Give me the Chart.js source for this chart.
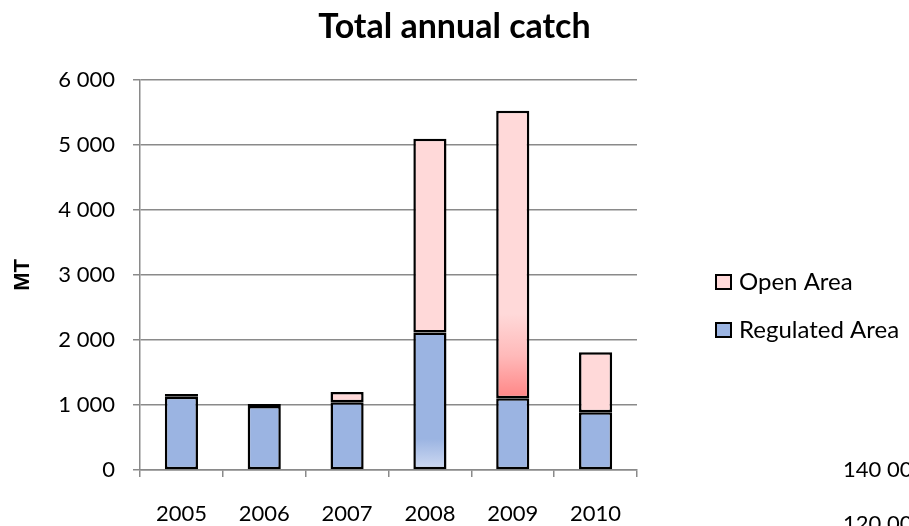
<!DOCTYPE html>
<html>
<head>
<meta charset="utf-8">
<title>Total annual catch</title>
<script src="https://cdn.jsdelivr.net/npm/chart.js@4.4.1/dist/chart.umd.min.js"></script>
<style>
  html, body { margin: 0; padding: 0; background: #fff; }
  canvas { display: block; }
</style>
</head>
<body>
<canvas id="catchChart" width="909" height="526"></canvas>
<script>
const years = ['2005', '2006', '2007', '2008', '2009', '2010'];
const regulatedArea = [1128, 985, 1041, 2113, 1103, 887];
const openArea = [41, 30, 159, 2979, 4420, 923];
const yTickLabels = ['0', '1 000', '2 000', '3 000', '4 000', '5 000', '6 000'];
const sideTexts = ['140 00', '120 00'];

const blue = '#9bb4e2';
const pink = '#ffd9d9';
const gridGray = '#8a8a8a';

// the odd Excel fills: faded base on 2008 regulated, red fade on 2009 open
function regulatedFill(ctx) {
  const chart = ctx.chart;
  if (!chart.chartArea || ctx.dataIndex !== 3) return blue;
  const y = chart.scales.y;
  const g = chart.ctx.createLinearGradient(0, y.getPixelForValue(0), 0, y.getPixelForValue(480));
  g.addColorStop(0, '#d0dbf2');
  g.addColorStop(1, blue);
  return g;
}

function openFill(ctx) {
  const chart = ctx.chart;
  if (!chart.chartArea || ctx.dataIndex !== 4) return pink;
  const y = chart.scales.y;
  const base = regulatedArea[4];
  const g = chart.ctx.createLinearGradient(0, y.getPixelForValue(base), 0, y.getPixelForValue(base + 1300));
  g.addColorStop(0, '#ff8585');
  g.addColorStop(0.5, '#ffb9b9');
  g.addColorStop(1, pink);
  return g;
}

const sideLegend = {
  id: 'sideLegend',
  afterDraw(chart, args, opts) {
    const c = chart.ctx;
    const items = chart.data.datasets.slice().reverse();
    c.save();
    c.font = opts.font;
    c.textBaseline = 'middle';
    c.textAlign = 'left';
    items.forEach((ds, i) => {
      const cy = opts.y + i * opts.rowGap;
      c.fillStyle = ds.legendColor;
      c.fillRect(opts.x, cy - 7, 15, 14);
      c.lineWidth = 2;
      c.strokeStyle = '#000';
      c.strokeRect(opts.x, cy - 7, 15, 14);
      c.fillStyle = '#000';
      c.fillText(ds.label, opts.x + 23, cy);
    });
    // the edge of the next chart's axis peeking in at the bottom right
    c.font = opts.font2;
    sideTexts.forEach((t, i) => c.fillText(t, 843, 470 + i * 54));
    c.restore();
  }
};

new Chart(document.getElementById('catchChart'), {
  type: 'bar',
  data: {
    labels: years,
    datasets: [
      {
        label: 'Regulated Area',
        data: regulatedArea,
        backgroundColor: regulatedFill,
        legendColor: blue,
        borderColor: '#000',
        borderWidth: 2.5,
        borderSkipped: false
      },
      {
        label: 'Open Area',
        data: openArea,
        backgroundColor: openFill,
        legendColor: pink,
        borderColor: '#000',
        borderWidth: 2.5,
        borderSkipped: false
      }
    ]
  },
  options: {
    responsive: false,
    animation: false,
    layout: { padding: 0 },
    datasets: { bar: { categoryPercentage: 1, barPercentage: 0.4 } },
    plugins: {
      legend: { display: false },
      tooltip: { enabled: false },
      title: {
        display: true,
        text: 'Total annual catch',
        color: '#000',
        font: { family: 'Lato', size: 34, weight: 'bold' },
        padding: { top: 7, bottom: 32 }
      },
      sideLegend: {
        x: 716, y: 282, rowGap: 48,
        font: '24px Lato',
        font2: '22px Lato'
      }
    },
    scales: {
      x: {
        stacked: true,
        afterFit(scale) { scale.height = 56; },
        grid: {
          display: true,
          drawOnChartArea: false,
          drawTicks: true,
          tickLength: 7,
          color: gridGray,
          lineWidth: 1.5
        },
        border: { display: true, color: gridGray, width: 1.5 },
        ticks: {
          color: '#000',
          padding: 24,
          font: { family: 'Lato', size: 22 }
        }
      },
      y: {
        stacked: true,
        min: 0,
        max: 6000,
        afterFit(scale) { scale.width = 140; },
        grid: {
          color: gridGray,
          lineWidth: 1.5,
          tickLength: 7
        },
        border: { display: true, color: gridGray, width: 1.5 },
        ticks: {
          stepSize: 1000,
          color: '#000',
          padding: 18,
          font: { family: 'Lato', size: 22 },
          callback: (v, i) => yTickLabels[i]
        },
        title: {
          display: true,
          text: 'MT',
          color: '#000',
          font: { family: 'Liberation Sans', size: 22, weight: 'bold' },
          padding: { top: 10, bottom: 0 }
        }
      },
      // empty right-hand box that reserves the legend's room, so the title stays centred on the page
      spacer: {
        type: 'linear',
        position: 'right',
        display: true,
        afterFit(scale) { scale.width = 272; },
        grid: { display: false },
        border: { display: false },
        ticks: { display: false }
      }
    }
  },
  plugins: [sideLegend]
});
</script>
</body>
</html>
